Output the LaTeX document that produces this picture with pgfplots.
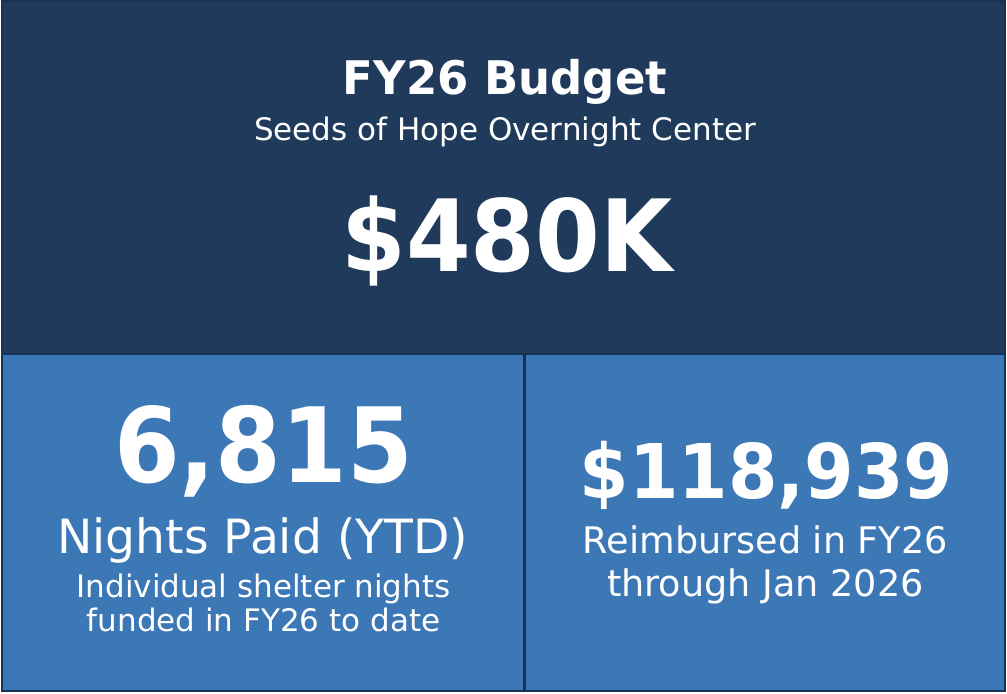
\documentclass[border=0pt]{standalone}
\usepackage{pgfplots}
\pgfplotsset{compat=1.18}
\usepackage{fontspec}
\setmainfont{DejaVu Sans}

\definecolor{topfill}{HTML}{1F3A5B}
\definecolor{botfill}{HTML}{3C77B6}
\definecolor{edge}{HTML}{163353}

% 1 px of the reference = 0.75pt
\newcommand{\fs}[1]{\fontsize{#1}{#1}\selectfont}

\begin{document}
\begin{tikzpicture}
\begin{axis}[
  scale only axis,
  width=755.25pt, height=520.5pt,
  xmin=0, xmax=1007, ymin=0, ymax=694,
  y dir=reverse,
  hide axis,
  clip=false,
]
% panels
\addplot[draw=none, fill=topfill] coordinates {(0,0) (1007,0) (1007,355) (0,355)} -- cycle;
\addplot[draw=none, fill=botfill] coordinates {(0,355) (1007,355) (1007,694) (0,694)} -- cycle;
% borders
\addplot[edge, line width=1.5pt] coordinates {(1,1) (1006,1) (1006,693) (1,693)} -- cycle;
\addplot[edge, line width=1.8pt] coordinates {(0,355) (1007,355)};
\addplot[edge, line width=1.8pt] coordinates {(524.5,355) (524.5,694)};

% top panel
\node[anchor=base, text=white, font=\bfseries\fs{33.8}] at (axis cs:505,95) {\scalebox{1}[1.03]{FY26 Budget}};
\node[anchor=base, text=white, font=\fs{23.3}] at (axis cs:505,141) {Seeds of Hope Overnight Center};
\node[anchor=base, text=white, font=\bfseries\fs{70}] at (axis cs:507,272) {\scalebox{1}[1.07]{\$480K}};

% left panel
\node[anchor=base, text=white, font=\bfseries\fs{71}] at (axis cs:263,484) {\scalebox{1}[1.1]{6,815}};
\node[anchor=base, text=white, font=\fs{35.5}] at (axis cs:262,555) {Nights Paid (YTD)};
\node[anchor=base, text=white, font=\fs{23.3}] at (axis cs:263,599) {Individual shelter nights};
\node[anchor=base, text=white, font=\fs{23.3}] at (axis cs:263,633) {funded in FY26 to date};

% right panel
\node[anchor=base, text=white, font=\bfseries\fs{53.5}] at (axis cs:767,500) {\scalebox{1}[1.06]{\$118,939}};
\node[anchor=base, text=white, font=\fs{27.5}] at (axis cs:766,555) {Reimbursed in FY26};
\node[anchor=base, text=white, font=\fs{27.5}] at (axis cs:766,598) {through Jan 2026};
\end{axis}
\end{tikzpicture}
\end{document}
